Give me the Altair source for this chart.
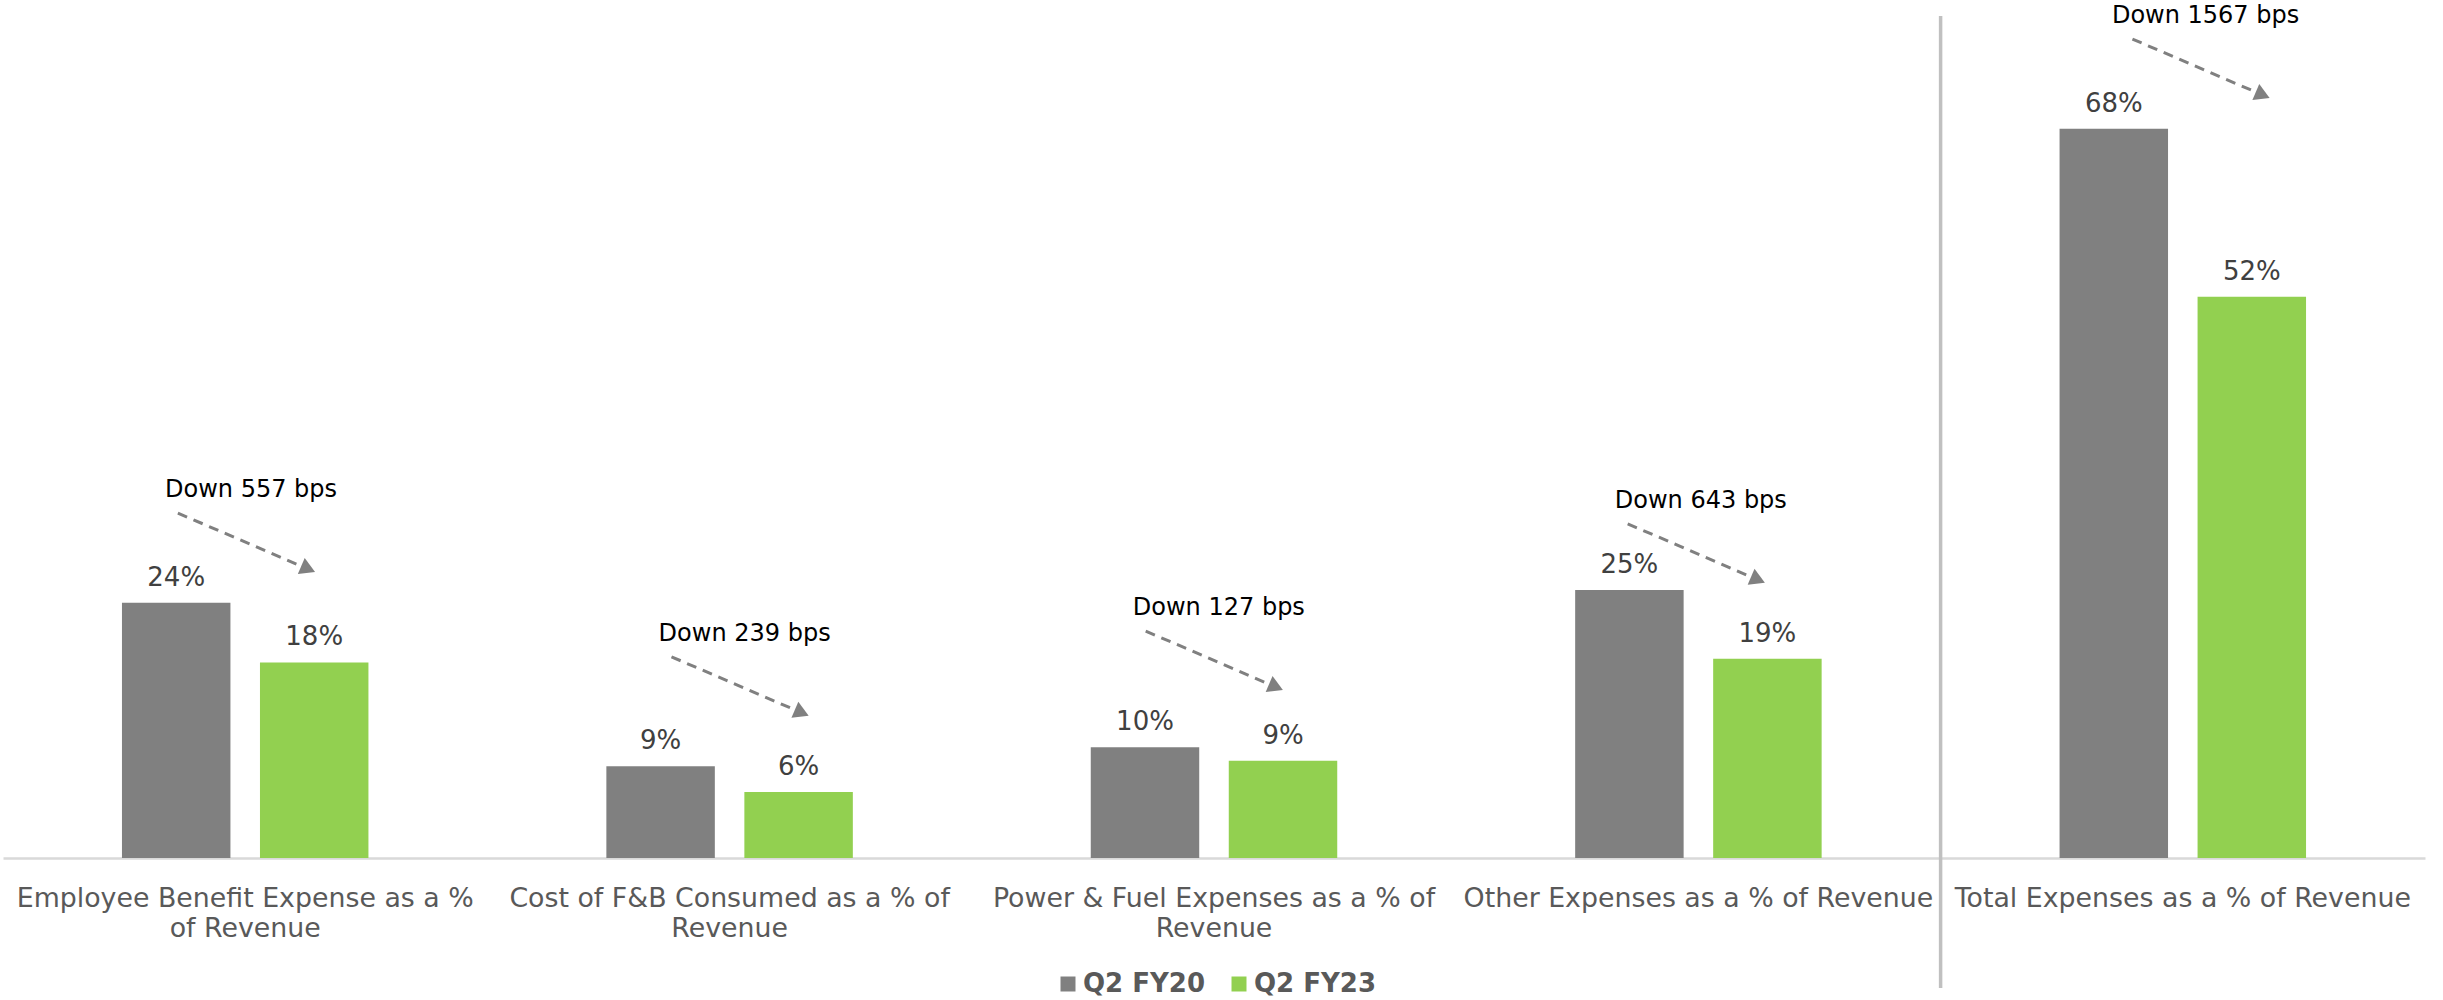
import altair as alt
import pandas as pd

# ---- data ----
categories = [
    "Employee Benefit Expense as a % of Revenue",
    "Cost of F&B Consumed as a % of Revenue",
    "Power & Fuel Expenses as a % of Revenue",
    "Other Expenses as a % of Revenue",
    "Total Expenses as a % of Revenue",
]
category_lines = [
    ["Employee Benefit Expense as a %", "of Revenue"],
    ["Cost of F&B Consumed as a % of", "Revenue"],
    ["Power & Fuel Expenses as a % of", "Revenue"],
    ["Other Expenses as a % of Revenue"],
    ["Total Expenses as a % of Revenue"],
]
periods = ["Q2 FY20", "Q2 FY23"]
fy20_values = [23.8, 8.55, 10.33, 25.0, 68.0]
fy23_values = [18.23, 6.16, 9.06, 18.57, 52.33]
fy20_labels = ["24%", "9%", "10%", "25%", "68%"]
fy23_labels = ["18%", "6%", "9%", "19%", "52%"]

annotation_texts = ["Down 557 bps", "Down 239 bps", "Down 127 bps", "Down 643 bps", "Down 1567 bps"]
annotation_x = [0.512, 1.531, 2.51, 3.505, 4.547]   # in category units
annotation_y = [34.3, 20.9, 23.3, 33.3, 78.5]        # in % units

# ---- tables ----
bars_df = pd.DataFrame({
    "category": categories * 2,
    "period": [periods[0]] * 5 + [periods[1]] * 5,
    "value": fy20_values + fy23_values,
    "label": fy20_labels + fy23_labels,
})

# arrow geometry relative to each annotation anchor
ann_df = pd.DataFrame({
    "x": annotation_x,
    "y": annotation_y,
    "text": annotation_texts,
})
ann_df["xs"] = ann_df["x"] - 0.151
ann_df["ys"] = ann_df["y"] - 2.14
ann_df["xe"] = ann_df["x"] + 0.106
ann_df["ye"] = ann_df["y"] - 7.13
ann_df["xh"] = ann_df["x"] + 0.118
ann_df["yh"] = ann_df["y"] - 7.35

sep_df = pd.DataFrame({"category": [categories[4]]})

# label expression for wrapped category labels
parts = []
for cat, lines in zip(categories, category_lines):
    arr = "[" + ", ".join("'" + l + "'" for l in lines) + "]"
    parts.append(f"datum.label == '{cat}' ? {arr}")
label_expr = " : ".join(parts) + " : datum.label"

FONT = "DejaVu Sans"
yscale = alt.Scale(domain=[0, 80], nice=False, zero=True)

x_enc = alt.X(
    "category:N",
    sort=categories,
    scale=alt.Scale(paddingInner=0, paddingOuter=0),
    axis=alt.Axis(
        title=None,
        labelExpr=label_expr,
        labelFont=FONT,
        labelFontSize=26.8,
        labelColor="#595959",
        labelLineHeight=30,
        labelPadding=27,
        labelLimit=700,
        labelOverlap=False,
        labelAngle=0,
        ticks=False,
        tickSize=0,
        domainColor="#d9d9d9",
        domainWidth=2.5,
        grid=False,
    ),
)
xoff_enc = alt.XOffset(
    "period:N",
    sort=periods,
    scale=alt.Scale(paddingInner=0.214, paddingOuter=0.862),
)
y_enc = alt.Y("value:Q", scale=yscale, axis=None)

bars = alt.Chart(bars_df).mark_bar().encode(
    x=x_enc,
    xOffset=xoff_enc,
    y=y_enc,
    color=alt.Color(
        "period:N",
        sort=periods,
        scale=alt.Scale(domain=periods, range=["#808080", "#92d050"]),
        legend=alt.Legend(
            title=None,
            orient="none",
            legendX=1052,
            legendY=971,
            direction="horizontal",
            symbolType="square",
            symbolSize=225,
            symbolStrokeWidth=0,
            labelFont=FONT,
            labelFontWeight="bold",
            labelFontSize=26,
            labelColor="#595959",
            labelOffset=2,
            columnPadding=20,
            padding=0,
        ),
    ),
)

value_text = alt.Chart(bars_df).mark_text(
    baseline="alphabetic", dy=-17, fontSize=26, font=FONT, color="#404040"
).encode(x=x_enc, xOffset=xoff_enc, y=y_enc, text="label:N")

separator = alt.Chart(sep_df).mark_rule(color="#c0c0c0", strokeWidth=3.5).encode(
    x=alt.X("category:N", sort=categories, bandPosition=0),
    y=alt.value(16),
    y2=alt.value(988),
)

bar_group = alt.layer(bars, value_text, separator)

ax = alt.Scale(domain=[0, 5], nice=False, zero=False)
arrows = alt.Chart(ann_df).mark_rule(
    strokeDash=[10, 7], strokeWidth=3, color="#808080"
).encode(
    x=alt.X("xs:Q", scale=ax, axis=None),
    y=alt.Y("ys:Q", scale=yscale, axis=None),
    x2="xe:Q",
    y2="ye:Q",
)
heads = alt.Chart(ann_df).mark_point(
    shape="triangle-right", filled=True, size=300, angle=23.3, color="#808080", opacity=1
).encode(
    x=alt.X("xh:Q", scale=ax, axis=None),
    y=alt.Y("yh:Q", scale=yscale, axis=None),
)
ann_text = alt.Chart(ann_df).mark_text(
    fontSize=24, font=FONT, color="#000000", baseline="middle"
).encode(
    x=alt.X("x:Q", scale=ax, axis=None),
    y=alt.Y("y:Q", scale=yscale, axis=None),
    text="text:N",
)
ann_group = alt.layer(arrows, heads, ann_text)

chart = (
    alt.layer(bar_group, ann_group)
    .resolve_scale(x="independent")
    .properties(
        width=2422,
        height=858,
        padding={"left": 3, "right": 18, "top": 0, "bottom": 0},
        background="white",
    )
    .configure_view(stroke=None)
)

chart.save("out.html", embed_options={"renderer": "svg", "actions": False})
